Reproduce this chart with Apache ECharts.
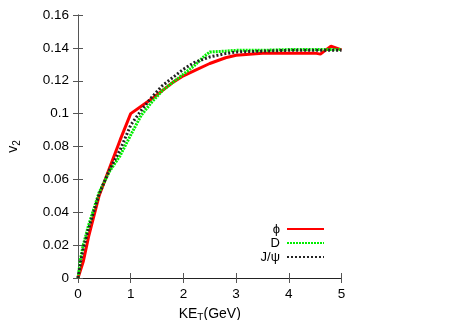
<!DOCTYPE html>
<html>
<head>
<meta charset="utf-8">
<script src="https://cdn.jsdelivr.net/npm/echarts@6/dist/echarts.min.js"></script>
<style>
  html, body { margin: 0; padding: 0; background: #fff; }
  #chart { width: 457px; height: 320px; }
</style>
</head>
<body>
<div id="chart"></div>
<script>
// phi meson
const phiX = [0, 0.1, 0.2, 0.4, 0.6, 0.8, 1.0, 1.2, 1.4, 1.6, 1.8, 2.0, 2.2, 2.5, 2.8, 3.0, 3.5, 4.0, 4.5, 4.6, 4.8, 5.0];
const phiY = [0, 0.010, 0.025, 0.050, 0.067, 0.084, 0.100, 0.1045, 0.109, 0.114, 0.119, 0.123, 0.126, 0.1305, 0.134, 0.1355, 0.1367, 0.1368, 0.1368, 0.1362, 0.1411, 0.1388];
// D meson
const dX = [0, 0.05, 0.1, 0.2, 0.4, 0.6, 0.8, 1.0, 1.2, 1.4, 1.6, 1.8, 2.0, 2.2, 2.4, 2.5, 2.8, 3.0, 3.5, 4.0, 4.5, 5.0];
const dY = [0, 0.012, 0.020, 0.032, 0.052, 0.065, 0.0745, 0.087, 0.099, 0.107, 0.114, 0.119, 0.124, 0.129, 0.135, 0.1375, 0.138, 0.1385, 0.1385, 0.139, 0.139, 0.139];
// J/psi
const jX = [0, 0.05, 0.1, 0.2, 0.4, 0.6, 0.8, 1.0, 1.2, 1.4, 1.6, 1.8, 2.0, 2.2, 2.5, 2.8, 3.0, 3.5, 4.0, 4.5, 5.0];
const jY = [0, 0.010, 0.018, 0.030, 0.051, 0.066, 0.078, 0.093, 0.102, 0.110, 0.117, 0.122, 0.127, 0.131, 0.1345, 0.1365, 0.1375, 0.138, 0.1385, 0.1385, 0.1385];

const legendNames = ["\u03d5", "D", "J/\u03c8"];

function pairs(xs, ys) {
  return xs.map((x, i) => [x, ys[i]]);
}

const chart = echarts.init(document.getElementById("chart"));
const axisColor = "#555";
const font = "Liberation Sans, Arial, sans-serif";

const options = {
  animation: false,
  grid: { left: 78, right: 115.5, top: 15, bottom: 42, outerBoundsMode: "none" },
  legend: {
    orient: "vertical",
    align: "right",
    right: 132,
    top: 222,
    padding: 0,
    itemWidth: 37,
    itemHeight: 8,
    itemGap: 0,
    itemStyle: { opacity: 0 },
    textStyle: { fontFamily: font, fontSize: 13, lineHeight: 14, color: "#000", padding: [0, 2, 0, 0] },
    data: legendNames,
  },
  xAxis: [
    {
      type: "value",
      min: 0, max: 5, interval: 1,
      name: "{a|KE}{s|T}{a|(GeV)}",
      nameLocation: "middle",
      nameGap: 28,
      nameTextStyle: {
        rich: {
          a: { fontFamily: font, fontSize: 14, color: "#000" },
          s: { fontFamily: font, fontSize: 10, color: "#000", verticalAlign: "bottom", padding: [7, 0, 0, 0] },
        },
      },
      axisLine: { lineStyle: { color: axisColor } },
      axisTick: { inside: true, length: 5, lineStyle: { color: axisColor } },
      axisLabel: { margin: 9, fontFamily: font, fontSize: 13.5, color: "#000" },
      splitLine: { show: false },
    },
    {
      type: "value",
      position: "top",
      min: 0, max: 5, interval: 1,
      axisLine: { show: true, lineStyle: { color: "#222" } },
      axisTick: { inside: true, length: 5, lineStyle: { color: axisColor } },
      axisLabel: { show: false },
      splitLine: { show: false },
    },
  ],
  yAxis: [
    {
      type: "value",
      min: 0, max: 0.16, interval: 0.02,
      name: "{a|v}{s|2}",
      nameLocation: "middle",
      nameRotate: 90,
      nameGap: 56,
      nameTextStyle: {
        rich: {
          a: { fontFamily: font, fontSize: 14, color: "#000" },
          s: { fontFamily: font, fontSize: 10, color: "#000", verticalAlign: "bottom", padding: [7, 0, 0, 0] },
        },
      },
      axisLine: { show: true, lineStyle: { color: axisColor } },
      axisTick: { inside: true, length: 5, lineStyle: { color: axisColor } },
      axisLabel: { margin: 9, fontFamily: font, fontSize: 13.5, color: "#000" },
      splitLine: { show: false },
    },
    {
      type: "value",
      position: "right",
      min: 0, max: 0.16, interval: 0.02,
      axisLine: { show: true, lineStyle: { color: axisColor } },
      axisTick: { inside: true, length: 5, lineStyle: { color: axisColor } },
      axisLabel: { show: false },
      splitLine: { show: false },
    },
  ],
  series: [
    {
      name: legendNames[0],
      type: "line",
      showSymbol: false,
      symbol: "none",
      data: pairs(phiX, phiY),
      lineStyle: { color: "#ff0000", width: 3 },
      itemStyle: { color: "#ff0000" },
      z: 3,
    },
    {
      name: legendNames[1],
      type: "line",
      showSymbol: false,
      symbol: "none",
      data: pairs(dX, dY),
      lineStyle: { color: "#00ee00", width: 3, type: [2, 1] },
      itemStyle: { color: "#00ee00" },
      z: 4,
    },
    {
      name: legendNames[2],
      type: "line",
      showSymbol: false,
      symbol: "none",
      data: pairs(jX, jY),
      lineStyle: { color: "#222", width: 3, type: [2, 2] },
      itemStyle: { color: "#222" },
      z: 5,
    },
  ],
};
chart.setOption(options);
</script>
</body>
</html>
